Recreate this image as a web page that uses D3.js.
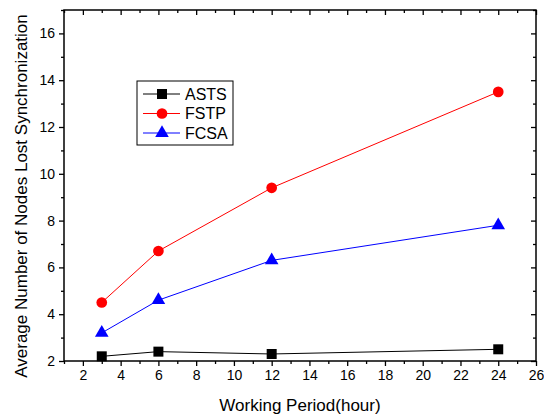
<!DOCTYPE html>
<html>
<head>
<meta charset="utf-8">
<script src="https://cdn.jsdelivr.net/npm/d3@7"></script>
<style>
  body { margin: 0; background: #fff; }
  text { font-family: "Liberation Sans", Arial, sans-serif; fill: #000; }
</style>
</head>
<body>
<div class="wrapper"></div>
<script>
const WIDTH = 544
const HEIGHT = 418
const margin = {left: 64, right: 8, top: 10, bottom: 57}

// data
var hours = [3, 6, 12, 24]
var asts = [2.2, 2.4, 2.3, 2.5]
var fstp = [4.5, 6.7, 9.4, 13.5]
var fcsa = [3.2, 4.6, 6.3, 7.8]
var seriesNames = ['ASTS', 'FSTP', 'FCSA']
var xTicks = [2, 4, 6, 8, 10, 12, 14, 16, 18, 20, 22, 24, 26]
var yTicks = [2, 4, 6, 8, 10, 12, 14, 16]

var series = [
  {name: seriesNames[0], values: asts, color: '#000000', symbol: d3.symbolSquare, size: 100},
  {name: seriesNames[1], values: fstp, color: '#ff0000', symbol: d3.symbolCircle, size: 90},
  {name: seriesNames[2], values: fcsa, color: '#0000ff', symbol: d3.symbolTriangle, size: 80}
]

var svg = d3.select(".wrapper")
  .append("svg")
  .attr("width", WIDTH)
  .attr("height", HEIGHT)

var x = d3.scaleLinear().domain([1, 26]).range([margin.left, WIDTH - margin.right])
var y = d3.scaleLinear().domain([2, 17]).range([HEIGHT - margin.bottom, margin.top])

var x0 = x.range()[0], x1 = x.range()[1]
var y0 = y.range()[0], y1 = y.range()[1]

// bottom axis, ticks outward
svg.append("g")
  .attr("transform", `translate(0,${y0})`)
  .call(d3.axisBottom(x).tickValues(xTicks).tickSize(5).tickPadding(4).tickFormat(d3.format("d")))
  .call(g => g.select(".domain").remove())
  .call(g => g.selectAll("text").style("font-size", "14px"))

svg.append("g")
  .attr("transform", `translate(0,${y0})`)
  .call(d3.axisBottom(x).tickValues(d3.range(1, 27, 2)).tickSize(3).tickFormat(""))
  .call(g => g.select(".domain").remove())

// left axis, ticks outward
svg.append("g")
  .attr("transform", `translate(${x0},0)`)
  .call(d3.axisLeft(y).tickValues(yTicks).tickSize(5).tickPadding(4).tickFormat(d3.format("d")))
  .call(g => g.select(".domain").remove())
  .call(g => g.selectAll("text").style("font-size", "14px"))

svg.append("g")
  .attr("transform", `translate(${x0},0)`)
  .call(d3.axisLeft(y).tickValues(d3.range(3, 18, 2)).tickSize(3).tickFormat(""))
  .call(g => g.select(".domain").remove())

// top and right mirrored ticks, inward
svg.append("g")
  .attr("transform", `translate(0,${y1})`)
  .call(d3.axisBottom(x).tickValues(xTicks).tickSize(5).tickFormat(""))
  .call(g => g.select(".domain").remove())
svg.append("g")
  .attr("transform", `translate(0,${y1})`)
  .call(d3.axisBottom(x).tickValues(d3.range(1, 27, 2)).tickSize(3).tickFormat(""))
  .call(g => g.select(".domain").remove())
svg.append("g")
  .attr("transform", `translate(${x1},0)`)
  .call(d3.axisLeft(y).tickValues(yTicks).tickSize(5).tickFormat(""))
  .call(g => g.select(".domain").remove())
svg.append("g")
  .attr("transform", `translate(${x1},0)`)
  .call(d3.axisLeft(y).tickValues(d3.range(3, 18, 2)).tickSize(3).tickFormat(""))
  .call(g => g.select(".domain").remove())

svg.selectAll(".tick line").attr("stroke", "#000").attr("stroke-width", 1.3)

// frame
svg.append("rect")
  .attr("x", x0).attr("y", y1)
  .attr("width", x1 - x0).attr("height", y0 - y1)
  .attr("fill", "none").attr("stroke", "#000").attr("stroke-width", 1.5)

// lines + markers
var line = d3.line()
  .x((d, i) => x(hours[i]))
  .y(d => y(d))

series.forEach(function(s) {
  svg.append("path")
    .attr("d", line(s.values))
    .attr("fill", "none")
    .attr("stroke", s.color)
    .attr("stroke-width", 1)

  svg.append("g")
    .selectAll("path")
    .data(s.values)
    .join("path")
    .attr("transform", (d, i) => `translate(${x(hours[i])},${y(d)})`)
    .attr("d", d3.symbol().type(s.symbol).size(s.size))
    .attr("fill", s.color)
})

// legend
var legend = svg.append("g").attr("transform", "translate(137,81)")
legend.append("rect")
  .attr("width", 96).attr("height", 64)
  .attr("fill", "#fff").attr("stroke", "#000").attr("stroke-width", 1)

var rows = legend.selectAll("g.row")
  .data(series)
  .join("g")
  .attr("class", "row")
  .attr("transform", (d, i) => `translate(0,${13 + i * 19.5})`)

rows.append("line")
  .attr("x1", 6).attr("x2", 43)
  .attr("stroke", d => d.color).attr("stroke-width", 1)
rows.append("path")
  .attr("transform", "translate(25,0)")
  .attr("d", d => d3.symbol().type(d.symbol).size(d.size)())
  .attr("fill", d => d.color)
rows.append("text")
  .attr("x", 48).attr("dy", "0.36em")
  .style("font-size", "16px")
  .text(d => d.name)

// axis titles
svg.append("text")
  .attr("x", (x0 + x1) / 2).attr("y", 411)
  .attr("text-anchor", "middle")
  .style("font-size", "17px")
  .text("Working Period(hour)")

svg.append("text")
  .attr("transform", `translate(27,196) rotate(-90)`)
  .attr("text-anchor", "middle")
  .style("font-size", "17px")
  .text("Average Number of Nodes Lost Synchronization")
</script>
</body>
</html>
